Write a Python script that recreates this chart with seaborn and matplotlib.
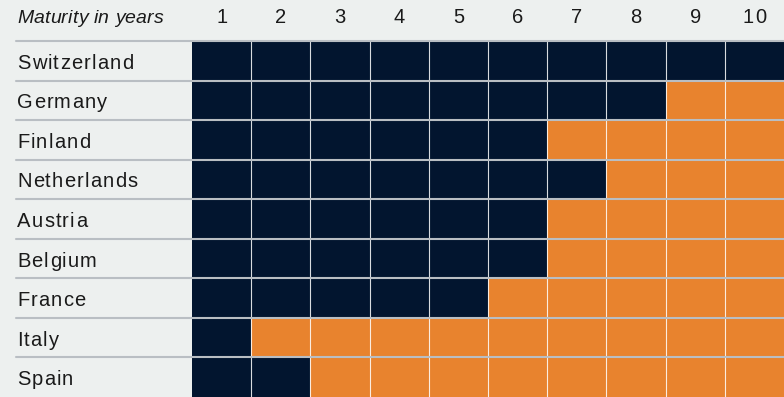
import matplotlib
matplotlib.use("Agg")
import matplotlib.pyplot as plt
import matplotlib.transforms as mtransforms
from matplotlib.colors import ListedColormap
from matplotlib.font_manager import FontProperties, findfont
from matplotlib.ft2font import FT2Font
import seaborn as sns
import pandas as pd

countries = ["Switzerland", "Germany", "Finland", "Netherlands", "Austria",
             "Belgium", "France", "Italy", "Spain"]
maturities = [1, 2, 3, 4, 5, 6, 7, 8, 9, 10]
header_label = "Maturity in years"
# 0 = negative yield (dark), 1 = positive yield (orange)
yield_sign = [
    [0, 0, 0, 0, 0, 0, 0, 0, 0, 0],
    [0, 0, 0, 0, 0, 0, 0, 0, 1, 1],
    [0, 0, 0, 0, 0, 0, 1, 1, 1, 1],
    [0, 0, 0, 0, 0, 0, 0, 1, 1, 1],
    [0, 0, 0, 0, 0, 0, 1, 1, 1, 1],
    [0, 0, 0, 0, 0, 0, 1, 1, 1, 1],
    [0, 0, 0, 0, 0, 1, 1, 1, 1, 1],
    [0, 1, 1, 1, 1, 1, 1, 1, 1, 1],
    [0, 0, 1, 1, 1, 1, 1, 1, 1, 1],
]

BG = "#edf0ef"
NAVY = "#02152f"
ORANGE = "#e8832e"
SEP = "#b9bec3"
TEXT = "#1a1a1a"

sns.set_theme(style="white")
plt.rcParams["font.family"] = ["Liberation Sans", "DejaVu Sans"]

W, H = 784, 397
DPI = 100
fig = plt.figure(figsize=(W / DPI, H / DPI), dpi=DPI, facecolor=BG)


def advances(s, fp):
    """Glyph advance widths in pixels for each character of s."""
    font = FT2Font(findfont(fp))
    font.set_size(fp.get_size_in_points(), DPI)
    return [font.load_char(ord(c)).linearHoriAdvance / 65536 for c in s]


def tracked_text(x, y, s, fp, tracking, ha="left"):
    """Draw s with extra letter spacing; x, y in pixels from the top-left,
    y is the baseline."""
    adv = advances(s, fp)
    total = sum(adv) + tracking * (len(s) - 1)
    if ha == "center":
        x -= total / 2
    for c, a in zip(s, adv):
        fig.text(x / W, 1 - y / H, c, fontproperties=fp, color=TEXT,
                 ha="left", va="baseline")
        x += a + tracking


left, top = 192, 41
ax = fig.add_axes([left / W, 0, 1 - left / W, (H - top) / H])
ax.set_facecolor(BG)

df = pd.DataFrame(yield_sign, index=countries, columns=maturities)
sns.heatmap(df, ax=ax, cmap=ListedColormap([NAVY, ORANGE]), vmin=0, vmax=1,
            cbar=False, linewidths=0, square=False,
            xticklabels=False, yticklabels=False)
ax.set_ylim(len(countries), 0)
ax.set_xlabel("")
ax.set_ylabel("")
for s in ax.spines.values():
    s.set_visible(False)

# thin white column dividers
for c in range(1, len(maturities)):
    ax.axvline(c, color="white", lw=0.8, alpha=0.85, zorder=4)

# horizontal separators spanning the label column and the grid
trans = mtransforms.blended_transform_factory(fig.transFigure, ax.transData)
for r in range(len(countries)):
    ax.add_line(plt.Line2D([16 / W, 1], [r, r], transform=trans, color=SEP,
                           lw=1.5, clip_on=False, zorder=5))

label_fp = FontProperties(family="Liberation Sans", size=14.5)
header_fp = FontProperties(family="Liberation Sans", style="italic", size=14)

# row labels
row_h = (H - top) / len(countries)
for i, name in enumerate(countries):
    tracked_text(17, top + row_h * (i + 0.5) + 8, name, label_fp, 1.2)

# header
tracked_text(17, 23, header_label, header_fp, 0.2)
col_w = (W - left) / len(maturities)
for j, m in enumerate(maturities):
    tracked_text(left + col_w * (j + 0.5), 23, str(m), label_fp, 1.0,
                 ha="center")

fig.savefig("out.png", dpi=DPI, facecolor=BG)
